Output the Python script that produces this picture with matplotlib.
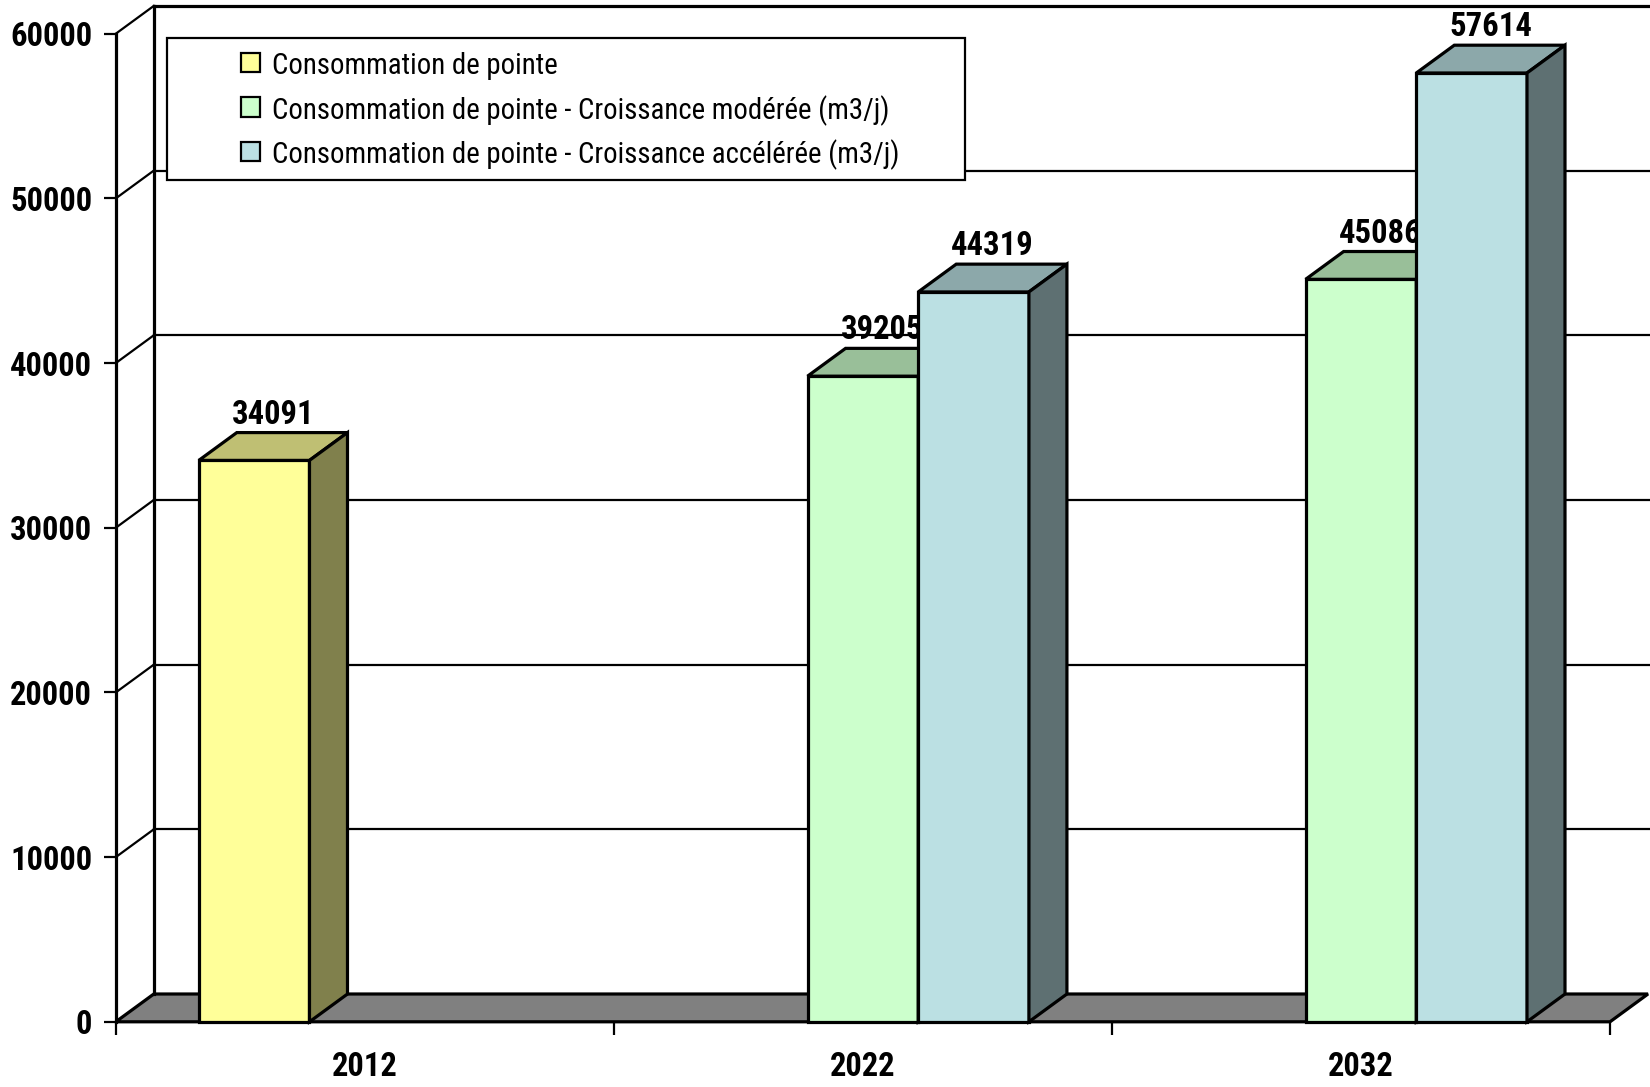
import os
import numpy as np
import matplotlib
matplotlib.use("Agg")
import matplotlib.pyplot as plt
from matplotlib import font_manager as fm
from matplotlib.patches import Polygon, Rectangle

# ---- data -------------------------------------------------------------
years = ["2012", "2022", "2032"]
series_names = [
    "Consommation de pointe",
    "Consommation de pointe - Croissance modérée (m3/j)",
    "Consommation de pointe - Croissance accélérée (m3/j)",
]
pointe = [34091, np.nan, np.nan]
moderee = [np.nan, 39205, 45086]
acceleree = [np.nan, 44319, 57614]
y_ticks = [0, 10000, 20000, 30000, 40000, 50000, 60000]

# ---- styling ------------------------------------------------------------
front_colors = ["#FFFF99", "#CCFFCC", "#BBE0E3"]
top_colors = ["#BFBF73", "#99BF99", "#8CA8AA"]
side_colors = ["#80804C", "#668066", "#5E7072"]
floor_color = "#808080"


def find_narrow(bold):
    """Look for an installed narrow / condensed sans face."""
    found = []
    for f in fm.fontManager.ttflist:
        base = os.path.basename(f.fname).lower()
        key = (f.name + " " + base).lower()
        if not ("narrow" in key or "condensed" in key or "cond" in base):
            continue
        if any(k in key for k in ("italic", "oblique", "mono", "extracondensed",
                                  "extra condensed", "ultracondensed",
                                  "extralight", "thin", "light", "medium",
                                  "black", "semibold", "extrabold", "heavy")):
            continue
        if "serif" in key and "sans" not in key:
            continue
        has_bold = "bold" in base
        if has_bold != bold:
            continue
        rank = 5
        if "liberation" in key:
            rank = 0
        elif "arial" in key:
            rank = 1
        elif "semicondensed" in key or "semi condensed" in key:
            rank = 4
        elif "roboto" in key:
            rank = 2
        elif "noto" in key or "open" in key:
            rank = 3
        found.append((rank, f.fname))
    found.sort()
    return found[0][1] if found else None


nb, nr = find_narrow(True), find_narrow(False)
if nb and nr:
    bold_fp = fm.FontProperties(fname=nb, size=23.5)
    reg_fp = fm.FontProperties(fname=nr, size=20.7)
else:
    bold_fp = fm.FontProperties(family="Liberation Sans", weight="bold",
                                size=20.5)
    reg_fp = fm.FontProperties(family="Liberation Sans", size=18)

W, H = 1650, 1087
fig = plt.figure(figsize=(W / 100, H / 100), dpi=100)
fig.patch.set_facecolor("white")

# front plane of the box (pixels from the top-left corner)
X0, X1 = 115.8, 1610.0
YB, YT = 1021.8, 33.7
ax = fig.add_axes([X0 / W, 1 - YB / H, (X1 - X0) / W, (YB - YT) / H])
ax.set_xlim(-0.5, 2.5)
ax.set_ylim(0, 60000)
ax.patch.set_visible(False)

# data units per pixel
ux = 3.0 / (X1 - X0)
uy = 60000.0 / (YB - YT)
DX = 38.0 * ux          # depth offset, horizontal
DY = 27.8 * uy          # depth offset, vertical
x_right = -0.5 + (W + 5 - X0) * ux

LW = 2.3
GLW = 1.6

# floor
floor = Polygon([(-0.5, 0), (2.5, 0), (2.5 + DX, DY), (-0.5 + DX, DY)],
                closed=True, facecolor=floor_color, edgecolor="black",
                lw=LW, joinstyle="miter", clip_on=False, zorder=1)
ax.add_patch(floor)

# back wall and left wall gridlines
bx = -0.5 + DX
ax.plot([bx, bx], [DY, 60000 + DY], color="black", lw=LW, clip_on=False,
        zorder=1.2, solid_capstyle="projecting")
for v in y_ticks[1:]:
    ax.plot([bx, x_right], [v + DY, v + DY], color="black",
            lw=LW if v == y_ticks[-1] else GLW, clip_on=False, zorder=1.1)
    ax.plot([-0.5, bx], [v, v + DY], color="black", lw=GLW,
            clip_on=False, zorder=1.1)

# axes, ticks, tick labels
for s in ("top", "right", "bottom"):
    ax.spines[s].set_visible(False)
ax.spines["left"].set_linewidth(LW)
ax.spines["left"].set_zorder(3)

ax.set_yticks(y_ticks)
ax.set_yticklabels([str(v) for v in y_ticks], fontproperties=bold_fp)
ax.tick_params(axis="y", length=9, width=GLW, pad=8, direction="out")

ax.set_xticks([-0.5, 0.5, 1.5, 2.5])
ax.set_xticklabels([])
ax.tick_params(axis="x", which="major", length=9, width=GLW,
               direction="out")
ax.set_xticks([0, 1, 2], minor=True)
ax.set_xticklabels(years, minor=True, fontproperties=bold_fp)
ax.tick_params(axis="x", which="minor", length=0, pad=21)

# 3-D bars
all_series = [pointe, moderee, acceleree]
bw = 2.0 / 9.0
z = 4
for ci in range(len(years)):
    for si, vals in enumerate(all_series):
        v = vals[ci]
        if np.isnan(v):
            continue
        xc = ci + (si - 1) * bw
        xl, xr = xc - bw / 2, xc + bw / 2
        ax.bar(xc, v, width=bw, color=front_colors[si], edgecolor="black",
               lw=LW, zorder=z, clip_on=False)
        top = Polygon([(xl, v), (xl + DX, v + DY), (xr + DX, v + DY),
                       (xr, v)], closed=True, facecolor=top_colors[si],
                      edgecolor="black", lw=LW, zorder=z, clip_on=False)
        side = Polygon([(xr, 0), (xr + DX, DY), (xr + DX, v + DY),
                        (xr, v)], closed=True, facecolor=side_colors[si],
                       edgecolor="black", lw=LW, zorder=z, clip_on=False)
        ax.add_patch(top)
        ax.add_patch(side)
        ax.text(xc + DX / 2, v + DY + 9 * uy, f"{v:.0f}", ha="center",
                va="baseline", fontproperties=bold_fp,
                zorder=z + 0.5, clip_on=False)
        z += 1

# legend box
tf = fig.transFigure


def fx(px):
    return px / W


def fy(py):
    return 1 - py / H


lx0, ly0, lx1, ly1 = 166.7, 38.3, 965.0, 180.0
ax.add_patch(Rectangle((fx(lx0), fy(ly1)), fx(lx1) - fx(lx0),
                       fy(ly0) - fy(ly1), transform=tf, facecolor="white",
                       edgecolor="black", lw=1.6, zorder=20, clip_on=False))
row_y = [62.5, 107.0, 151.5]
sq = 19.0
for i, name in enumerate(series_names):
    cy = row_y[i]
    ax.add_patch(Rectangle((fx(240.5), fy(cy + sq / 2)), sq / W, sq / H,
                           transform=tf, facecolor=front_colors[i],
                           edgecolor="black", lw=1.6, zorder=21,
                           clip_on=False))
    ax.text(fx(271.5), fy(cy), name, transform=tf, ha="left",
            va="center_baseline", fontproperties=reg_fp, zorder=22,
            clip_on=False)

fig.savefig("out.png", dpi=100)
